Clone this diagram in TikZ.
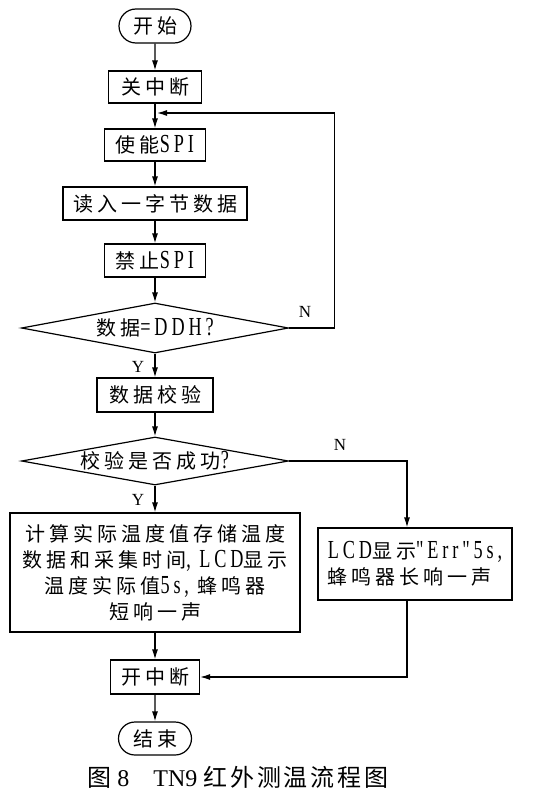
\documentclass[tikz,border=0pt]{standalone}
\usepackage{fontspec}
\setmainfont{Liberation Serif}
\newfontfamily\cjk[LetterSpace=20]{Noto Sans CJK SC}
\newfontfamily\capcjk[LetterSpace=12]{Noto Sans CJK SC}
\newfontfamily\latinf[FakeStretch=0.7,LetterSpace=15]{Liberation Serif}
\newcommand\latn[1]{{\latinf\fontsize{26}{26}\selectfont #1}}
\usetikzlibrary{shapes.geometric,shapes.misc,arrows.meta}

\begin{document}
\begin{tikzpicture}[x=1pt,y=-1pt,line width=1.2pt, % TN9 flow chart
    font=\cjk\fontsize{20}{26}\selectfont,
    every node/.style={inner sep=0pt},
    term/.style={draw,rounded rectangle,minimum height=34pt},
    proc/.style={draw,rectangle,minimum height=33pt},
    cond/.style={draw,diamond,aspect=5.3},
    line/.style={-{Latex[length=10pt,width=6pt]}},
    yn/.style={font=\rmfamily\fontsize{17}{17}\selectfont}]
  \useasboundingbox (0,0) rectangle (549,800);
  \node[term,minimum width=72pt] (start) at (155,26) {开始};
  \node[proc,minimum width=93pt,minimum height=32pt] (offint) at (155,87) {关中断};
  \node[proc,minimum width=101pt,minimum height=32pt] (spien) at (155,145) {使能\latn{SPI}};
  \node[proc,minimum width=184pt] (rdbyte) at (155,203.5) {读入一字节数据};
  \node[proc,minimum width=101pt] (spidis) at (155,260.5) {禁止\latn{SPI}};
  \node[cond,minimum width=267pt,minimum height=50pt] (isdd) at (155,328) {数据\latn{=DDH?}};
  \node[proc,minimum width=116pt,minimum height=34pt] (verify) at (155,395) {数据校验};
  \node[cond,minimum width=267pt,minimum height=48pt] (okq) at (155,461) {校验是否成功\latn{?}};
  \node[proc,minimum width=290pt,minimum height=119pt,align=center] (calc) at (155,572.5)
    {计算实际温度值存储温度\\数据和采集时间\latn{, LCD}显示\\温度实际值\latn{5s, }蜂鸣器\\短响一声};
  \node[proc,minimum width=194pt,minimum height=72pt,align=left] (errmsg) at (415,564)
    {\latn{LCD}显示\latn{"Err"5s,}\\蜂鸣器长响一声};
  \node[proc,minimum width=89pt,minimum height=34pt] (onint) at (155,677) {开中断};
  \node[term,minimum width=73pt,minimum height=33pt] (stop) at (155,738.5) {结束};
  \node[font=\rmfamily\fontsize{24}{24}\selectfont] (caption) at (238,777)
    {{\capcjk 图} 8\quad TN9 {\capcjk 红外测温流程图}};
  \coordinate (back) at (157,113);
  \coordinate (nturn) at (407,461);
  \draw[line] (start) -- (offint);
  \draw[line] (offint) -- (spien);
  \draw[line] (spien) -- (rdbyte);
  \draw[line] (rdbyte) -- (spidis);
  \draw[line] (spidis) -- (isdd);
  \draw[line] (isdd.east) -- ++(45,0) |- (back);
  \node[yn] at (305,312) {N};
  \draw[line] (isdd) -- (verify);
  \node[yn] at (138,367) {Y};
  \draw[line] (verify) -- (okq);
  \draw[line] (okq.east) -- (nturn) -- (nturn |- errmsg.north);
  \node[yn] at (340,445) {N};
  \draw[line] (okq) -- (calc);
  \node[yn] at (138,500) {Y};
  \draw[line] (calc) -- (onint);
  \draw[line] (nturn |- errmsg.south) |- (onint.east);
  \draw[line] (onint) -- (stop);
\end{tikzpicture}
\end{document}
